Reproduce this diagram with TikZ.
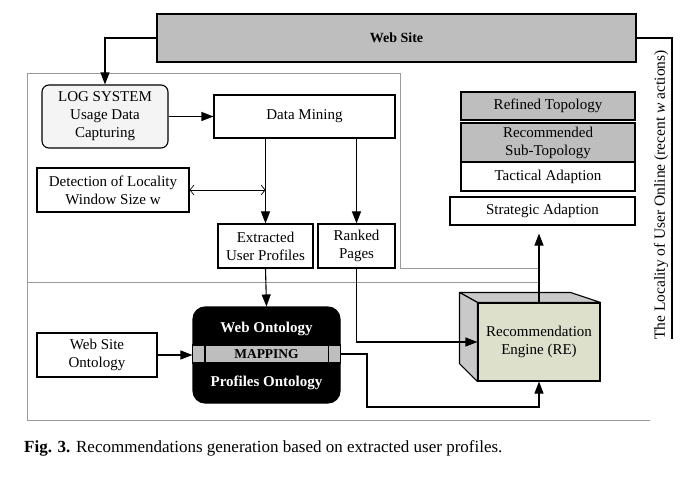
\documentclass[tikz,border=0pt]{standalone}
\usepackage{fontspec}
\setmainfont{Liberation Serif}
\usepackage{tikz}
\usetikzlibrary{arrows.meta,calc}
\definecolor{rsgray}{HTML}{BEBEBE}
\definecolor{rslight}{HTML}{F4F4F4}
\definecolor{rsframe}{HTML}{9A9A9A}
\definecolor{rsengine}{HTML}{DDE0CB}
\definecolor{rsside}{HTML}{C9C9C9}

\begin{document}
\begin{tikzpicture}[x=1pt, y=-1pt,
      font=\fontsize{15}{18}\selectfont,
      box/.style={draw=black, fill=white, line width=1.1pt, align=center,
                  inner sep=0pt},
      topo/.style={box, fill=rsgray, line width=1.4pt, minimum width=174pt},
      fl/.style={-{Triangle[length=12pt,width=9pt]}, line width=1.1pt},
      frm/.style={draw=rsframe, line width=0.7pt},
    ]
    \useasboundingbox (0,0) rectangle (693,481);

    % grey frames
    \draw[frm] (27,282) -- (27,73) -- (400,73) -- (400,268) -- (539,268);
    \draw[frm] (539,282) -- (27,282) -- (27,420) -- (650,420);

    \node[box, fill=rsgray, line width=1.6pt, minimum width=479pt, minimum height=48pt,
          font=\fontsize{14}{16}\selectfont\bfseries] (site) at (396.5,38) {Web Site};

    \node[box, fill=rslight, rounded corners=7pt, minimum width=126pt,
          minimum height=63pt] (log) at (105,116.5) {LOG SYSTEM\\Usage Data\\Capturing};
    \node[box, minimum width=181pt, minimum height=43pt] (mining) at (304.5,116.5) {Data Mining};
    \node[box, minimum width=152pt, minimum height=44pt] (detect) at (113,190)
          {Detection of Locality\\Window Size w};
    \node[box, minimum width=95pt, minimum height=44pt] (profiles) at (265.5,246)
          {Extracted\\User Profiles};
    \node[box, minimum width=77pt, minimum height=44pt] (ranked) at (356.5,246) {Ranked\\Pages};

    \node[topo, minimum height=28pt] (refined) at (548,106) {Refined Topology};
    \node[topo, minimum height=39pt] (subtopo) at (548,142.5) {Recommended\\Sub-Topology};
    \node[topo, fill=white, minimum height=29pt] (tactical) at (548,176.5) {Tactical Adaption};
    \node[box, minimum width=185pt, minimum height=28pt] (strategic) at (542.5,211)
          {Strategic Adaption};

    \node[box, minimum width=120pt, minimum height=44pt] (wsonto) at (97,355) {Web Site\\Ontology};

    % ontology block
    \node[box, fill=black, rounded corners=12pt, minimum width=147pt, minimum height=96pt]
          (onto) at (266.5,355) {};
    \node[box, fill=rsgray, minimum width=148pt, minimum height=18pt,
          font=\fontsize{13.5}{15}\selectfont\bfseries] (mapping) at (266.5,354) {MAPPING};
    \draw[line width=1.1pt] ($(mapping.north west)+(13,0)$) -- ($(mapping.south west)+(13,0)$);
    \draw[line width=1.1pt] ($(mapping.north east)+(-13,0)$) -- ($(mapping.south east)+(-13,0)$);
    \node[text=white, font=\fontsize{15}{18}\selectfont\bfseries] (webonto) at (266.5,329)
          {Web Ontology};
    \node[text=white, font=\fontsize{15}{18}\selectfont\bfseries] (profonto) at (266.5,383)
          {Profiles Ontology};

    % recommendation engine (box with top and side faces)
    \node[box, fill=rsengine, minimum width=122pt, minimum height=78pt] (engine) at (539,342)
          {Recommendation\\Engine (RE)};
    \draw[fill=rsside, line width=1.1pt, line join=round] (engine.north west) -- ++(-18,-10)
          -- ($(engine.north east)+(-30,-10)$) -- (engine.north east) -- cycle;
    \draw[fill=rsside, line width=1.1pt, line join=round] (engine.north west) -- ++(-18,-10)
          -- ($(engine.south west)+(-18,-18)$) -- (engine.south west) -- cycle;

    \draw[fl] (site.west) -| (log.north);
    \draw[fl] (log.east) -- (mining.west);
    \draw[fl] (mining.south -| profiles.north) -- (profiles.north);
    \draw[fl] (mining.south -| ranked.north) -- (ranked.north);
    \draw[{Straight Barb[length=4pt,width=10pt]}-{Straight Barb[length=4pt,width=10pt]},
          line width=0.7pt] (detect.east) -- (detect.east -| profiles.north);
    \draw[fl] (profiles.south) -- (onto.north);
    \draw[fl] (ranked.south) |- (engine.west);
    \draw[fl] (wsonto.east) -- (onto.west);
    \coordinate (bend) at (367,407);
    \draw[fl] (mapping.east) -| (bend) -| (engine.south);
    \draw[fl, shorten >=8pt] (engine.north) -- (engine.north |- strategic.south);

    % locality of the user
    \coordinate (locend) at (672,339);
    \draw[line width=1.1pt] (site.east) -| (locend);
    \node[rotate=90, font=\fontsize{15.5}{18}\selectfont] (locality) at (661,195)
          {The Locality of User Online (recent \textit{w} actions)};

    \node[anchor=west, inner sep=0pt, font=\fontsize{17}{20}\selectfont] (caption) at (24,448)
          {\textbf{Fig. 3.} Recommendations generation based on extracted user profiles.};
  \end{tikzpicture}
\end{document}
